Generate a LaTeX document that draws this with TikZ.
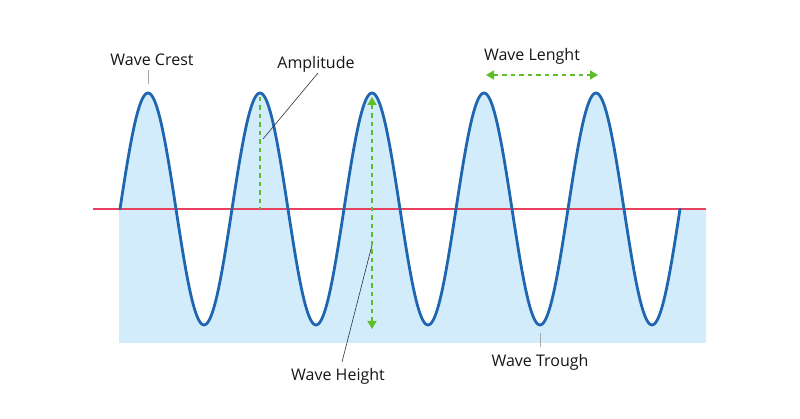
\documentclass[tikz,border=0pt]{standalone}
\usepackage{fontspec}
\setmainfont{Open Sans}
\usetikzlibrary{arrows.meta}
\definecolor{waveblue}{HTML}{1F66B0}
\definecolor{fillblue}{HTML}{D3ECFC}
\definecolor{midred}{HTML}{E8405F}
\definecolor{dashgreen}{HTML}{5DBE2B}
\definecolor{leader}{HTML}{333333}
\tikzset{
  lbl/.style={font=\fontsize{16}{18}\selectfont, text=black!92, inner sep=0pt},
  tick/.style={draw=gray!70, line width=0.8pt},
  lead/.style={draw=leader, line width=0.6pt},
  gdash/.style={draw=dashgreen, line width=1.6pt, dash pattern=on 4.5pt off 4pt},
  garrows/.style={gdash, {Triangle[length=8pt,width=9pt]}-{Triangle[length=8pt,width=9pt]}},
}
\begin{document}
\begin{tikzpicture}[x=1pt,y=-1pt]
\useasboundingbox (0,0) rectangle (800,419);
% fill
\fill[fillblue] plot[domain=120:680, samples=400] (\x,{209-116*sin((\x-120)/112*360)}) -- (706,209) -- (706,343) -- (119,343) -- (119,209) -- cycle;
% midline
\draw[midred, line width=1.1pt] (93,209) -- (706,209);
% wave
\draw[waveblue, line width=2.8pt, line cap=round, line join=round] plot[domain=120:680, samples=400] (\x,{209-116*sin((\x-120)/112*360)});
% coordinates
\coordinate (crest1) at (148,84);
\coordinate (crest1top) at (148,70);
\coordinate (ampTop) at (260,97);
\coordinate (ampBot) at (260,209);
\coordinate (ampPt) at (263,139);
\coordinate (hTop) at (372,97);
\coordinate (hBot) at (372,329);
\coordinate (hPt) at (372,245);
\coordinate (lenL) at (486,75);
\coordinate (lenR) at (598,75);
\coordinate (troughTick) at (540,333);
\coordinate (troughTickB) at (540,347);
% labels
\node[lbl] (crest) at (152,60) {Wave Crest};
\node[lbl] (amp) at (316,64) {Amplitude};
\node[lbl] (len) at (532,56) {Wave Lenght};
\node[lbl] (height) at (338,376) {Wave Height};
\node[lbl] (trough) at (540,362) {Wave Trough};
% ticks and leaders
\draw[tick] (crest1top) -- (crest1);
\draw[tick] (troughTick) -- (troughTickB);
\draw[lead] (318,73) coordinate (ampS) -- (ampPt);
\draw[lead] (hPt) -- (342,362) coordinate (hS);
% green dashed
\draw[gdash] (ampTop) -- (ampBot);
\draw[garrows] (hTop) -- (hBot);
\draw[garrows] (lenL) -- (lenR);
\end{tikzpicture}
\end{document}
